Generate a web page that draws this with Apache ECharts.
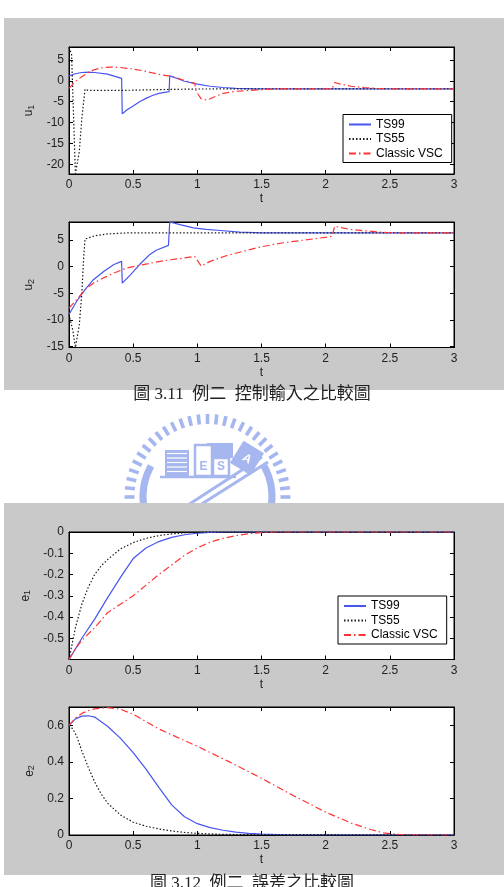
<!DOCTYPE html>
<html>
<head>
<meta charset="utf-8">
<script src="https://cdn.jsdelivr.net/npm/echarts@6/dist/echarts.min.js"></script>
<style>
  html, body { margin: 0; padding: 0; background: #fff; }
  #chart { width: 504px; height: 887px; }
</style>
</head>
<body>
<div id="chart"></div>
<script>
// ---- data (t in seconds) ----
const seriesNames = ['TS99', 'TS55', 'Classic VSC'];
const tTicks = [0, 0.5, 1, 1.5, 2, 2.5, 3];

// u1
const u1_ts99_t = [0, 0.05, 0.1, 0.15, 0.2, 0.3, 0.41, 0.415, 0.45, 0.5, 0.55, 0.6, 0.65, 0.7, 0.78, 0.785, 0.85, 0.9, 1.0, 1.1, 1.2, 1.3, 1.45, 3];
const u1_ts99_v = [1.2, 1.7, 2.0, 2.1, 2.0, 1.6, 0.6, -7.9, -7.0, -6.0, -5.0, -4.2, -3.5, -3.0, -2.6, 1.2, 0.5, -0.1, -0.8, -1.3, -1.6, -1.8, -1.9, -1.9];
const u1_ts55_t = [0, 0.02, 0.035, 0.05, 0.06, 0.08, 0.1, 0.125, 0.15, 0.4, 0.7, 1.0, 3];
const u1_ts55_v = [8.0, 6.5, -8, -22.2, -22.2, -17, -9, -2.0, -2.3, -2.3, -2.1, -1.95, -1.9];
const u1_vsc_t = [0, 0.03, 0.06, 0.1, 0.15, 0.2, 0.25, 0.32, 0.4, 0.45, 0.5, 0.58, 0.65, 0.71, 0.79, 0.85, 0.9, 0.98, 0.99, 1.03, 1.07, 1.1, 1.15, 1.2, 1.3, 1.4, 1.5, 1.6, 2.05, 2.07, 2.12, 2.2, 2.3, 2.4, 2.5, 3];
const u1_vsc_v = [-1.8, -0.8, 0.1, 1.0, 2.0, 2.7, 3.1, 3.3, 3.2, 3.0, 2.8, 2.4, 1.9, 1.5, 1.1, 0.6, 0.1, -0.6, -2.5, -4.3, -4.6, -4.3, -3.6, -3.0, -2.5, -2.3, -2.1, -1.95, -1.9, -0.4, -0.8, -1.3, -1.6, -1.8, -1.9, -1.9];

// u2
const u2_ts99_t = [0, 0.06, 0.125, 0.19, 0.27, 0.35, 0.41, 0.415, 0.48, 0.55, 0.63, 0.68, 0.775, 0.785, 0.865, 0.97, 1.07, 1.18, 1.33, 1.5, 3];
const u2_ts99_v = [-9.0, -6.5, -4.3, -2.45, -0.9, 0.4, 1.0, -3.1, -1.5, 0.4, 2.3, 3.1, 4.0, 8.4, 7.9, 7.3, 7.0, 6.8, 6.5, 6.35, 6.35];
const u2_ts55_t = [0, 0.03, 0.05, 0.06, 0.08, 0.1, 0.115, 0.125, 0.15, 0.2, 0.3, 0.45, 3];
const u2_ts55_v = [-9.0, -12, -15.2, -15.2, -11, -5, 2, 5.2, 5.4, 5.8, 6.15, 6.35, 6.35];
const u2_vsc_t = [0, 0.06, 0.125, 0.19, 0.27, 0.35, 0.45, 0.58, 0.71, 0.79, 0.89, 0.98, 1.03, 1.1, 1.23, 1.36, 1.49, 1.67, 1.93, 2.05, 2.07, 2.19, 2.4, 2.53, 3];
const u2_vsc_v = [-7.8, -6.2, -4.3, -3.1, -2.1, -1.2, -0.25, 0.4, 1.0, 1.3, 1.6, 1.95, 0.1, 1.0, 2.1, 2.9, 3.7, 4.5, 5.3, 5.7, 7.6, 7.0, 6.55, 6.35, 6.35];

// e1
const e1_ts99_t = [0, 0.05, 0.1, 0.2, 0.3, 0.4, 0.5, 0.6, 0.7, 0.8, 0.9, 1.0, 1.1, 1.2, 3];
const e1_ts99_v = [-0.6, -0.55, -0.5, -0.41, -0.31, -0.215, -0.125, -0.075, -0.045, -0.025, -0.013, -0.006, -0.002, 0, 0];
const e1_ts55_t = [0, 0.05, 0.1, 0.15, 0.2, 0.25, 0.3, 0.4, 0.5, 0.6, 0.7, 0.8, 0.9, 1.0, 3];
const e1_ts55_v = [-0.6, -0.45, -0.34, -0.26, -0.2, -0.16, -0.13, -0.08, -0.05, -0.03, -0.017, -0.009, -0.004, -0.001, 0];
const e1_vsc_t = [0, 0.05, 0.1, 0.2, 0.3, 0.4, 0.5, 0.6, 0.7, 0.8, 0.9, 1.0, 1.1, 1.2, 1.3, 1.4, 1.5, 1.6, 3];
const e1_vsc_v = [-0.6, -0.55, -0.51, -0.45, -0.38, -0.34, -0.30, -0.25, -0.2, -0.155, -0.11, -0.075, -0.048, -0.03, -0.017, -0.008, -0.003, 0, 0];

// e2
const e2_ts99_t = [0, 0.05, 0.1, 0.15, 0.2, 0.3, 0.4, 0.5, 0.6, 0.7, 0.8, 0.9, 1.0, 1.1, 1.2, 1.3, 1.4, 1.5, 1.7, 3];
const e2_ts99_v = [0.60, 0.635, 0.65, 0.652, 0.645, 0.595, 0.53, 0.45, 0.36, 0.26, 0.165, 0.1, 0.062, 0.04, 0.026, 0.016, 0.009, 0.005, 0.001, 0];
const e2_ts55_t = [0, 0.03, 0.06, 0.1, 0.15, 0.2, 0.25, 0.3, 0.4, 0.5, 0.6, 0.7, 0.8, 0.9, 1.0, 1.2, 3];
const e2_ts55_v = [0.60, 0.58, 0.54, 0.46, 0.37, 0.29, 0.225, 0.175, 0.11, 0.07, 0.048, 0.033, 0.022, 0.014, 0.009, 0.003, 0];
const e2_vsc_t = [0, 0.05, 0.1, 0.15, 0.2, 0.3, 0.4, 0.5, 0.7, 1.0, 1.25, 1.5, 1.75, 2.0, 2.2, 2.35, 2.45, 2.55, 2.65, 3];
const e2_vsc_v = [0.60, 0.64, 0.665, 0.68, 0.69, 0.697, 0.688, 0.66, 0.58, 0.485, 0.40, 0.31, 0.215, 0.125, 0.065, 0.03, 0.012, 0.004, 0, 0];

const captions = ['圖 3.11  例二  控制輸入之比較圖', '圖 3.12  例二  誤差之比較圖'];

// ---- layout / style ----
const FONT = 'Liberation Sans';
const BLUE = '#4655f0', BLACK = '#1a1a1a', RED = '#ff3535';
const GRAY = '#c9c9c9';

const panels = [
  { grid: { left: 69, top: 47, width: 385, height: 127 }, min: -22.3, max: 8.1, step: 5, name: 'u', sub: '1',
    data: [[u1_ts99_t, u1_ts99_v], [u1_ts55_t, u1_ts55_v], [u1_vsc_t, u1_vsc_v]] },
  { grid: { left: 69, top: 222, width: 385, height: 125.5 }, min: -15.2, max: 8.4, step: 5, name: 'u', sub: '2',
    data: [[u2_ts99_t, u2_ts99_v], [u2_ts55_t, u2_ts55_v], [u2_vsc_t, u2_vsc_v]] },
  { grid: { left: 69, top: 532, width: 385, height: 127.5 }, min: -0.6, max: 0, step: 0.1, name: 'e', sub: '1',
    data: [[e1_ts99_t, e1_ts99_v], [e1_ts55_t, e1_ts55_v], [e1_vsc_t, e1_vsc_v]] },
  { grid: { left: 69, top: 707, width: 385, height: 128 }, min: 0, max: 0.7, step: 0.2, name: 'e', sub: '2',
    data: [[e2_ts99_t, e2_ts99_v], [e2_ts55_t, e2_ts55_v], [e2_vsc_t, e2_vsc_v]] },
];

const lineStyles = [
  { color: BLUE, width: 1.2, type: 'solid' },
  { color: BLACK, width: 1.2, type: [1.5, 2] },
  { color: RED, width: 1.2, type: [7, 3, 1.5, 3] },
];

const pairs = (t, v) => t.map((x, i) => [x, v[i]]);
const tick = { inside: true, length: 4, lineStyle: { color: '#000', width: 1 } };
const axLine = { show: true, onZero: false, lineStyle: { color: '#000', width: 1 } };
const lbl = { color: '#222', fontSize: 12, fontFamily: FONT };

const grid = [], xAxis = [], yAxis = [], series = [];
panels.forEach((p, i) => {
  grid.push(Object.assign({ show: true, backgroundColor: '#fff', borderColor: '#000', borderWidth: 1, outerBoundsMode: 'none' }, p.grid));
  xAxis.push({ gridIndex: i, type: 'value', position: 'bottom', min: tTicks[0], max: tTicks[tTicks.length - 1], interval: 0.5,
    axisLine: axLine, axisTick: tick, splitLine: { show: false },
    axisLabel: Object.assign({ margin: 5 }, lbl),
    name: 't', nameLocation: 'middle', nameGap: 19, nameTextStyle: lbl });
  xAxis.push({ gridIndex: i, type: 'value', position: 'top', min: tTicks[0], max: tTicks[tTicks.length - 1], interval: 0.5,
    axisLine: axLine, axisTick: tick, splitLine: { show: false }, axisLabel: { show: false } });
  const yBase = { gridIndex: i, type: 'value', min: p.min, max: p.max, minInterval: p.step, maxInterval: p.step,
    axisLine: axLine, axisTick: tick, splitLine: { show: false } };
  yAxis.push(Object.assign({}, yBase, {
    position: 'left',
    axisLabel: Object.assign({ margin: 5, showMinLabel: p.min === 0, showMaxLabel: p.max === 0 }, lbl),
    name: '{a|' + p.name + '}{b|' + p.sub + '}', nameLocation: 'middle', nameRotate: 90, nameGap: 29,
    nameTextStyle: { rich: {
      a: { fontSize: 12, fontFamily: FONT, color: '#222', lineHeight: 14 },
      b: { fontSize: 9, fontFamily: FONT, color: '#222', lineHeight: 9, verticalAlign: 'bottom', padding: [6, 0, 0, 0] } } }
  }));
  yAxis.push(Object.assign({}, yBase, { position: 'right', axisLabel: { show: false } }));
  p.data.forEach((d, k) => {
    series.push({ type: 'line', name: seriesNames[k], xAxisIndex: 2 * i, yAxisIndex: 2 * i,
      data: pairs(d[0], d[1]), showSymbol: false, symbol: 'none', clip: true,
      lineStyle: lineStyles[k], itemStyle: { color: lineStyles[k].color }, silent: true });
  });
});

// legend: line sample only (symbol made invisible)
const legendBase = { data: seriesNames, orient: 'vertical', backgroundColor: '#fff', borderColor: '#000', borderWidth: 1,
  borderRadius: 0, padding: [4, 9, 3, 5], itemWidth: 22, itemHeight: 10, itemGap: 2.5, selectedMode: false,
  itemStyle: { opacity: 0, borderWidth: 0 },
  textStyle: { fontSize: 12, color: '#000', fontFamily: FONT } };
const legend = [
  Object.assign({ left: 343, top: 114.5 }, legendBase),
  Object.assign({ left: 338, top: 596 }, legendBase),
];

// ---- page decoration: figure backgrounds, captions, faint logo ----
const LOGO = '#a6b6ef';
const lcx = 207.5, lcy = 497;
const logo = [];
for (let k = 0; k < 56; k++) {
  const a = k / 56 * Math.PI * 2;
  logo.push({ type: 'line', z: -30, silent: true,
    shape: { x1: lcx + 73 * Math.cos(a), y1: lcy + 73 * Math.sin(a), x2: lcx + 83 * Math.cos(a), y2: lcy + 83 * Math.sin(a) },
    style: { stroke: LOGO, lineWidth: 3.6 } });
}
logo.push(
  { type: 'sector', z: -30, silent: true, shape: { cx: lcx, cy: lcy, r0: 61, r: 68, startAngle: Math.PI * 0.95, endAngle: Math.PI * 1.16, clockwise: true }, style: { fill: LOGO } },
  { type: 'sector', z: -30, silent: true, shape: { cx: lcx, cy: lcy, r0: 61, r: 68, startAngle: -Math.PI * 0.16, endAngle: Math.PI * 0.05, clockwise: true }, style: { fill: LOGO } },
  { type: 'rect', z: -30, silent: true, shape: { x: 165, y: 450, width: 24, height: 26 }, style: { fill: LOGO } },
  { type: 'rect', z: -30, silent: true, shape: { x: 207, y: 443, width: 26, height: 15 }, style: { fill: LOGO } },
  { type: 'rect', z: -30, silent: true, shape: { x: 195, y: 445, width: 17, height: 31 }, style: { fill: '#fff', stroke: LOGO, lineWidth: 2.5 } },
  { type: 'rect', z: -30, silent: true, shape: { x: 213, y: 458, width: 16, height: 18 }, style: { fill: '#fff', stroke: LOGO, lineWidth: 2.5 } },
  { type: 'text', z: -29, silent: true, x: 203.5, y: 467, style: { text: 'E', fill: LOGO, font: 'bold 12px Liberation Sans', textAlign: 'center', textVerticalAlign: 'middle' } },
  { type: 'text', z: -29, silent: true, x: 221, y: 467, style: { text: 'S', fill: LOGO, font: 'bold 12px Liberation Sans', textAlign: 'center', textVerticalAlign: 'middle' } },
  { type: 'rect', z: -30, silent: true, x: 247, y: 458, rotation: -0.55, shape: { x: -12, y: -13, width: 24, height: 26 }, style: { fill: LOGO } },
  { type: 'text', z: -29, silent: true, x: 247, y: 459, rotation: -0.55, style: { text: 'A', fill: '#fff', font: 'bold 12px Liberation Sans', textAlign: 'center', textVerticalAlign: 'middle' } },
  { type: 'line', z: -30, silent: true, shape: { x1: 160, y1: 477, x2: 236, y2: 477 }, style: { stroke: LOGO, lineWidth: 2.5 } },
  { type: 'line', z: -30, silent: true, shape: { x1: 188, y1: 505, x2: 262, y2: 457 }, style: { stroke: LOGO, lineWidth: 3 } },
  { type: 'line', z: -30, silent: true, shape: { x1: 197, y1: 507, x2: 268, y2: 462 }, style: { stroke: LOGO, lineWidth: 3 } }
);
for (let k = 0; k < 5; k++) {
  logo.push({ type: 'line', z: -29, silent: true, shape: { x1: 167, y1: 453.5 + k * 4.5, x2: 187, y2: 453.5 + k * 4.5 }, style: { stroke: '#fff', lineWidth: 1.2 } });
}

const captionFont = '17px "Liberation Serif", "Noto Sans CJK TC"';
const graphic = [
  { type: 'rect', z: -20, silent: true, shape: { x: 4, y: 18, width: 500, height: 372 }, style: { fill: GRAY } },
  { type: 'rect', z: -20, silent: true, shape: { x: 4, y: 503, width: 500, height: 372 }, style: { fill: GRAY } },
  { type: 'text', z: -10, silent: true, x: 252, y: 395, style: { text: captions[0], fill: '#222', font: captionFont, textAlign: 'center', textVerticalAlign: 'middle' } },
  { type: 'text', z: -10, silent: true, x: 252, y: 884, style: { text: captions[1], fill: '#222', font: captionFont, textAlign: 'center', textVerticalAlign: 'middle' } },
].concat(logo);

const chart = echarts.init(document.getElementById('chart'), null, { renderer: 'canvas' });
chart.setOption({
  animation: false,
  backgroundColor: '#fff',
  grid, xAxis, yAxis, series, legend, graphic,
});
</script>
</body>
</html>
